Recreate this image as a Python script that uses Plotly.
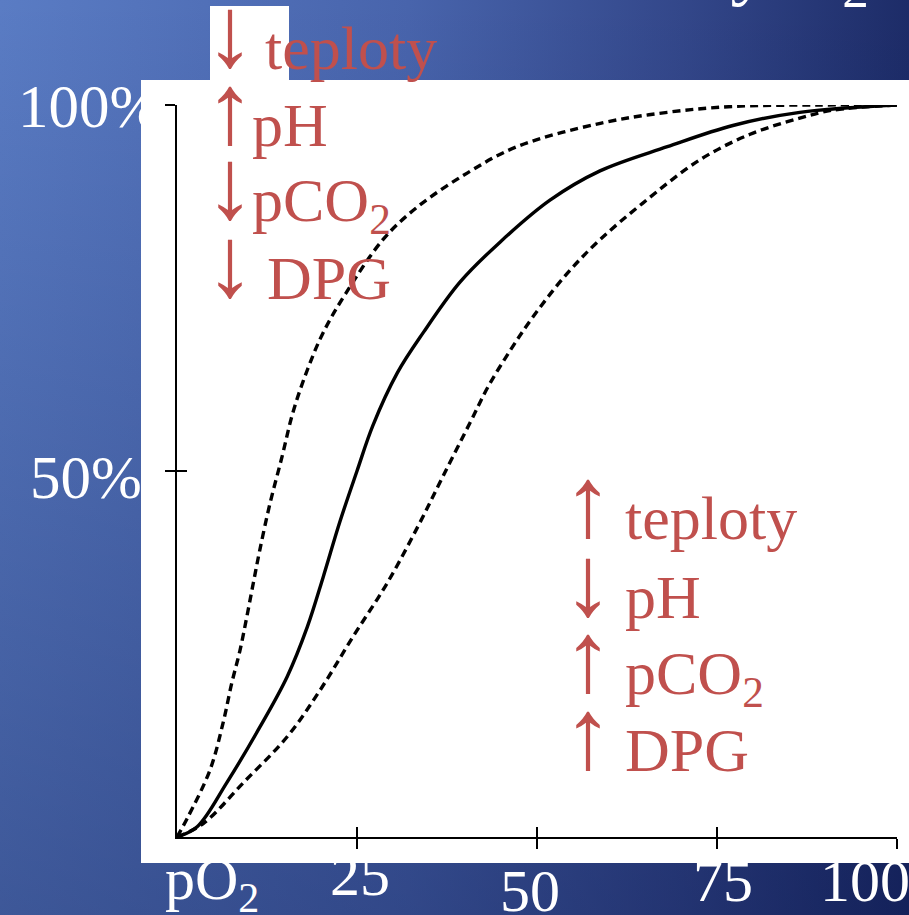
import base64
import plotly.graph_objects as go

# ---------------- data ----------------
# left dashed curve (higher affinity: lower temperature, higher pH, lower pCO2, lower DPG)
left_po2 = [0, 1.5, 4.6, 6.4, 7.6, 8.75, 9.7, 10.6, 11.5, 12.9, 14.6, 16.1, 18.1, 20.3,
            23.4, 28.6, 33.3, 40.3, 47.2, 58.8, 68.1, 77.2, 88.9, 100]
left_sat = [0, 2.7, 9.2, 15.6, 21.0, 25.5, 30.1, 34.7, 39.2, 45.5, 52.0, 58.0, 63.8, 68.9,
            74.2, 81.6, 86.0, 90.7, 94.3, 97.5, 99.0, 99.8, 100, 100]

# solid curve (normal)
mid_po2 = [0, 2.8, 6.9, 11.5, 15.3, 18.1, 20.3, 22.6, 25.0, 27.2, 30.6, 34.2, 39.3,
           44.9, 51.8, 58.75, 68.1, 77.2, 86.5, 100]
mid_sat = [0, 1.4, 7.4, 15.0, 21.9, 28.7, 35.5, 43.0, 50.0, 56.2, 63.4, 68.9, 75.8,
           81.3, 87.0, 91.0, 94.3, 97.2, 99.0, 100]

# right dashed curve (lower affinity)
right_po2 = [0, 3.6, 9.2, 15.3, 19.9, 24.4, 29.2, 33.5, 36.9, 40.7, 43.2, 46.3, 49.4,
             54.2, 58.75, 64.7, 72.6, 79.6, 86.5, 91.1, 100]
right_sat = [0, 1.8, 7.4, 13.7, 20.1, 27.3, 34.7, 42.5, 49.2, 56.6, 61.5, 66.5, 71.0,
             77.0, 81.6, 86.6, 92.5, 96.0, 98.2, 99.3, 100]

x_tickvals = [25, 50, 75, 100]
x_ticktext = ["25", "50", "75", "100"]
y_tickvals = [50, 100]
y_ticktext = ["50%", "100%"]
x_title = "pO<sub>2</sub>"
title_fragment = "křivky O<sub>2</sub>"

left_arrows = ["↓", "↑", "↓", "↓"]
left_words = ["teploty", "pH", "pCO<sub>2</sub>", "DPG"]
right_arrows = ["↑", "↓", "↑", "↑"]
right_words = ["teploty", "pH", "pCO<sub>2</sub>", "DPG"]

# ---------------- geometry helpers (pixel -> paper) ----------------
W, H = 909, 915
L, R, T, B = 177, 12, 105, 78
PW, PH = W - L - R, H - T - B


def px(x):
    return (x - L) / PW


def py(y):
    return (H - B - y) / PH


SERIF = "Liberation Serif, Times New Roman, serif"
RED = "#C0504D"


def top_from_baseline(baseline, size):
    return baseline - 0.891 * size - 1


# ---------------- background gradient (svg image) ----------------
svg = f"""<svg xmlns='http://www.w3.org/2000/svg' width='{W}' height='{H}' viewBox='0 0 {W} {H}' preserveAspectRatio='none'>
<defs>
<linearGradient id='h' x1='0' y1='0' x2='1' y2='0'>
<stop offset='0' stop-color='#5a7cc4'/>
<stop offset='0.45' stop-color='#4864ac'/>
<stop offset='0.75' stop-color='#33478a'/>
<stop offset='1' stop-color='#1d2c68'/>
</linearGradient>
<linearGradient id='v' x1='0' y1='0' x2='0' y2='1'>
<stop offset='0' stop-color='rgb(0,10,60)' stop-opacity='0'/>
<stop offset='1' stop-color='rgb(0,10,60)' stop-opacity='0.32'/>
</linearGradient>
</defs>
<rect width='{W}' height='{H}' fill='url(#h)'/>
<rect width='{W}' height='{H}' fill='url(#v)'/>
</svg>"""
bg_uri = "data:image/svg+xml;base64," + base64.b64encode(svg.encode()).decode()

fig = go.Figure()

line_common = dict(color="black", width=3.4, shape="spline", smoothing=1.0)
fig.add_trace(go.Scatter(x=left_po2, y=left_sat, mode="lines",
                         line=dict(dash="8px,5px", **line_common), hoverinfo="skip"))
fig.add_trace(go.Scatter(x=mid_po2, y=mid_sat, mode="lines",
                         line=dict(dash="solid", **line_common), hoverinfo="skip"))
fig.add_trace(go.Scatter(x=right_po2, y=right_sat, mode="lines",
                         line=dict(dash="8px,5px", **line_common), hoverinfo="skip"))
# helper trace so the overlay axes (inner half of the crossing ticks) are drawn
fig.add_trace(go.Scatter(x=[None], y=[None], xaxis="x2", yaxis="y2",
                         mode="lines", hoverinfo="skip"))

annotations = []

# x tick labels (white, manually offset like the slide)
x_label_shift = {25: 3, 50: -7, 75: 6}
x_label_base = {25: 894, 50: 910, 75: 900, 100: 900}
for v, t in zip(x_tickvals, x_ticktext):
    if v == 100:
        annotations.append(dict(x=v, xref="x", xanchor="left", xshift=-79,
                                y=py(top_from_baseline(x_label_base[v], 60)), yref="paper",
                                yanchor="top", text=t, showarrow=False,
                                font=dict(family=SERIF, size=60, color="white")))
    else:
        annotations.append(dict(x=v, xref="x", xanchor="center", xshift=x_label_shift[v],
                                y=py(top_from_baseline(x_label_base[v], 60)), yref="paper",
                                yanchor="top", text=t, showarrow=False,
                                font=dict(family=SERIF, size=60, color="white")))
annotations.append(dict(x=0, xref="x", xanchor="left", xshift=-14,
                        y=py(top_from_baseline(898, 60)), yref="paper", yanchor="top",
                        text=x_title, showarrow=False,
                        font=dict(family=SERIF, size=60, color="white")))

# y tick labels (white, partially hidden behind the white panel)
y_label_left = {50: 30, 100: 18}
y_label_base = {50: 497, 100: 126}
for v, t in zip(y_tickvals, y_ticktext):
    annotations.append(dict(x=px(y_label_left[v] - 2), xref="paper", xanchor="left",
                            y=py(top_from_baseline(y_label_base[v], 61)), yref="paper",
                            yanchor="top", text=t, showarrow=False,
                            font=dict(family=SERIF, size=61, color="white")))

# title fragment at the very top (mostly outside the page)
annotations.append(dict(x=px(871), xref="paper", xanchor="right",
                        y=py(top_from_baseline(-10, 76)), yref="paper", yanchor="top",
                        text=title_fragment, showarrow=False,
                        font=dict(family=SERIF, size=76, color="white")))

# red factor lists
ARROW_SIZE = 100
left_base = [68, 145, 220, 298]
left_word_x = [265, 252, 252, 267]
for a, w, b, wx in zip(left_arrows, left_words, left_base, left_word_x):
    annotations.append(dict(x=px(230), xref="paper", xanchor="center",
                            y=py(top_from_baseline(b - 3, ARROW_SIZE)), yref="paper",
                            yanchor="top", text=a, showarrow=False,
                            font=dict(family=SERIF, size=ARROW_SIZE, color=RED)))
    annotations.append(dict(x=px(wx - 2), xref="paper", xanchor="left",
                            y=py(top_from_baseline(b, 62)), yref="paper", yanchor="top",
                            text=w, showarrow=False, font=dict(family=SERIF, size=62, color=RED)))

right_base = [538, 617, 693, 770]
for a, w, b in zip(right_arrows, right_words, right_base):
    annotations.append(dict(x=px(588), xref="paper", xanchor="center",
                            y=py(top_from_baseline(b - 3, ARROW_SIZE)), yref="paper",
                            yanchor="top", text=a, showarrow=False,
                            font=dict(family=SERIF, size=ARROW_SIZE, color=RED)))
    annotations.append(dict(x=px(623), xref="paper", xanchor="left",
                            y=py(top_from_baseline(b, 62)), yref="paper", yanchor="top",
                            text=w, showarrow=False, font=dict(family=SERIF, size=62, color=RED)))

shapes = [
    # white slide panel behind the chart
    dict(type="rect", xref="paper", yref="paper", layer="below",
         x0=px(141), x1=px(912), y0=py(863), y1=py(80),
         fillcolor="white", line=dict(width=0)),
    # small white box behind the first red arrow
    dict(type="rect", xref="paper", yref="paper", layer="below",
         x0=px(210), x1=px(289), y0=py(80), y1=py(6),
         fillcolor="white", line=dict(width=0)),
]

axis_common = dict(range=[0, 100], showgrid=False, zeroline=False, fixedrange=True,
                   showticklabels=False)

fig.update_layout(
    width=W, height=H, autosize=False,
    margin=dict(l=L, r=R, t=T, b=B, pad=0),
    paper_bgcolor="#3e5aa0",
    plot_bgcolor="white",
    showlegend=False,
    images=[dict(source=bg_uri, xref="paper", yref="paper", x=px(0), y=py(0),
                 sizex=W / PW, sizey=H / PH, xanchor="left", yanchor="top",
                 sizing="stretch", layer="below")],
    shapes=shapes,
    annotations=annotations,
    xaxis=dict(showline=True, linecolor="black", linewidth=2,
               ticks="outside", ticklen=10, tickwidth=2, tickcolor="black",
               tickvals=x_tickvals, **axis_common),
    yaxis=dict(showline=True, linecolor="black", linewidth=2,
               ticks="outside", ticklen=10, tickwidth=2.5, tickcolor="black",
               tickvals=y_tickvals, **axis_common),
    xaxis2=dict(overlaying="x", anchor="y2", side="bottom", showline=False,
                ticks="inside", ticklen=10, tickwidth=2, tickcolor="black",
                tickvals=x_tickvals, **axis_common),
    yaxis2=dict(overlaying="y", anchor="x2", side="left", showline=False,
                ticks="inside", ticklen=10, tickwidth=2.5, tickcolor="black",
                tickvals=y_tickvals, **axis_common),
)

fig.write_html("out.html",
               config={"displayModeBar": False, "staticPlot": True},
               post_script="document.body.style.margin='0';document.body.style.overflow='hidden';")
